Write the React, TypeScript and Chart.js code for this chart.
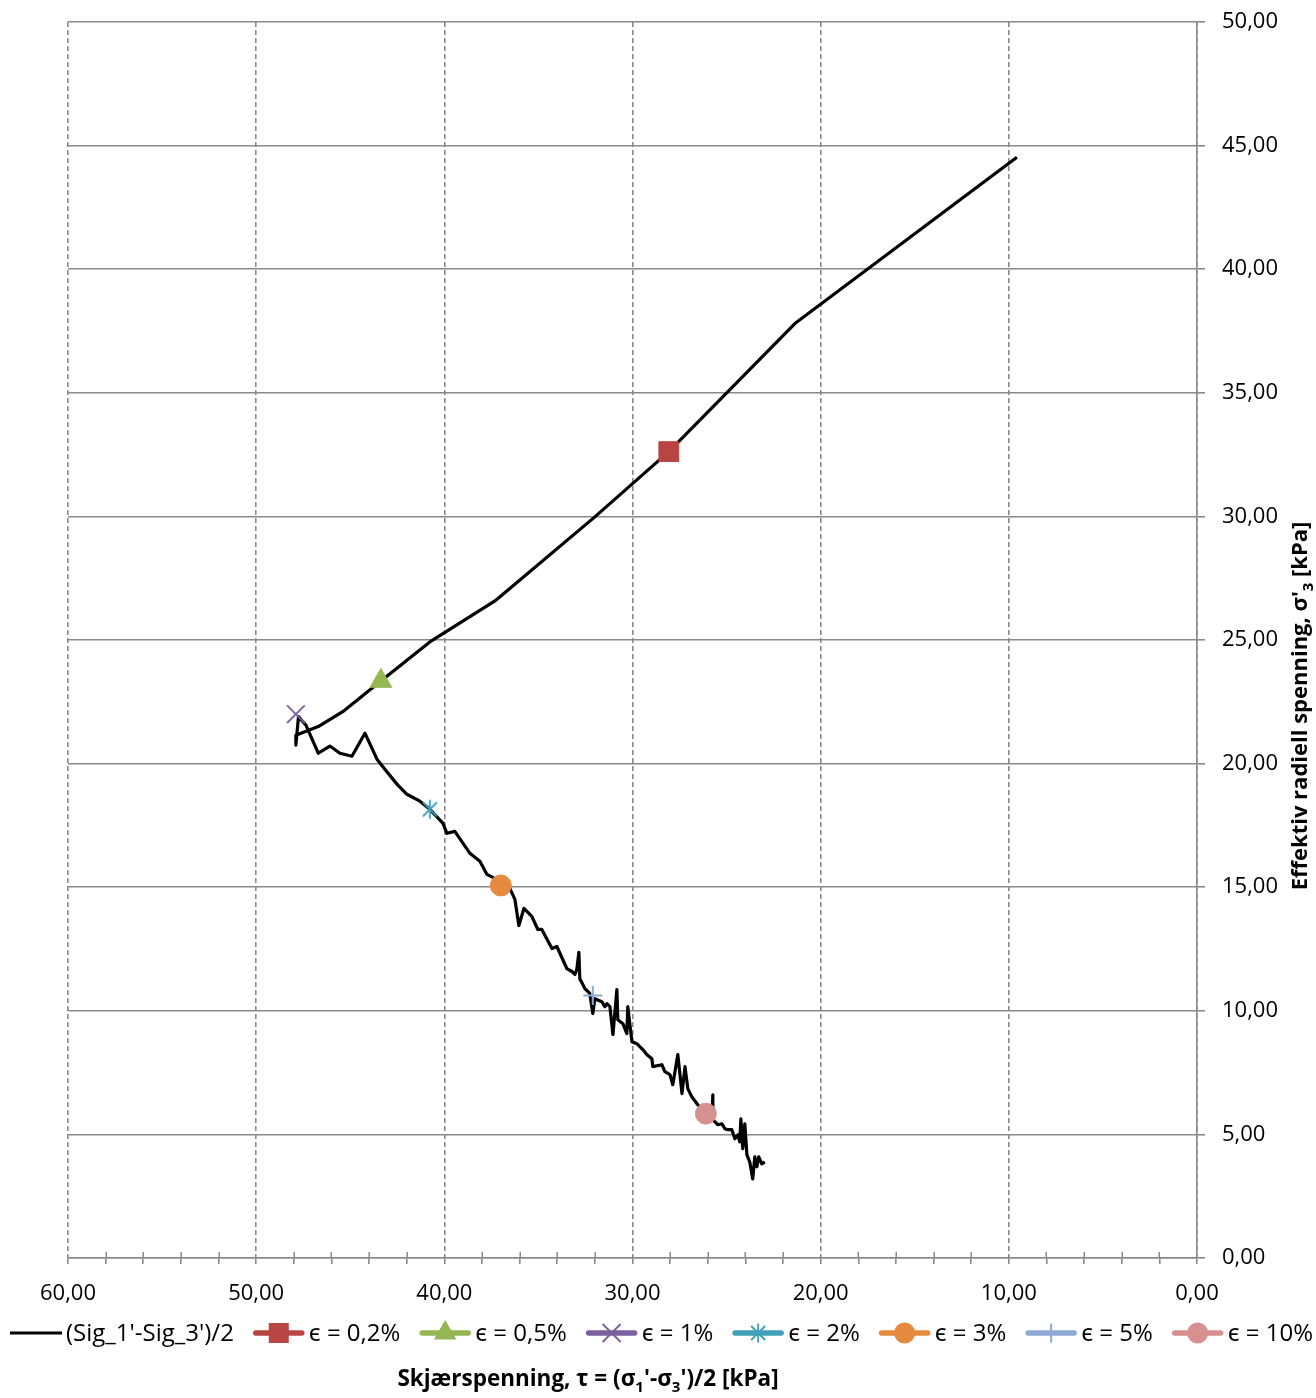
import React, { useEffect, useRef } from 'react';
import { Chart, registerables } from 'chart.js';

Chart.register(...registerables);

// ---- Data ----
const pathTau = [
  9.57, 21.37, 28.07, 32.0, 37.31, 40.77, 43.37, 45.4, 46.7, 47.89,
  47.89, 47.75, 47.35, 46.7, 46.08, 45.55, 44.91, 44.22, 43.58, 43.16,
  42.52, 41.99, 41.3, 40.77, 40.08, 39.86, 39.44, 38.64, 38.11, 37.74,
  37.42, 37.0, 36.52, 36.25, 36.04, 35.77, 35.35, 35.03, 34.82, 34.28,
  34.02, 33.49, 33.22, 33.06, 32.96, 32.85, 32.8, 32.53, 32.27, 32.11,
  32.0, 31.63, 31.47, 31.36, 31.2, 31.04, 30.83, 30.78, 30.51, 30.3,
  30.25, 30.03, 29.77, 29.45, 29.24, 28.97, 28.92, 28.44, 28.28, 28.01,
  27.86, 27.59, 27.37, 27.21, 27.06, 26.85, 26.53, 26.1, 25.78, 25.73,
  25.73, 25.46, 25.25, 25.09, 24.93, 24.72, 24.56, 24.4, 24.3, 24.24,
  24.14, 24.03, 23.92, 23.77, 23.61, 23.5, 23.39, 23.29, 23.13, 22.97,
];
const pathSigma3 = [
  44.53, 37.8, 32.62, 29.98, 26.58, 24.92, 23.34, 22.1, 21.5, 21.15,
  20.75, 21.9, 21.55, 20.42, 20.71, 20.42, 20.3, 21.23, 20.18, 19.77,
  19.17, 18.76, 18.48, 18.15, 17.59, 17.18, 17.26, 16.37, 16.05, 15.52,
  15.4, 15.07, 14.95, 14.51, 13.45, 14.14, 13.82, 13.29, 13.29, 12.52,
  12.6, 11.71, 11.59, 11.47, 11.67, 12.36, 11.3, 10.9, 10.7, 9.89,
  10.49, 10.37, 10.17, 10.29, 10.17, 9.04, 10.86, 9.64, 9.48, 9.08,
  10.17, 8.75, 8.67, 8.43, 8.23, 8.06, 7.74, 7.82, 7.54, 7.42,
  7.01, 8.23, 6.65, 7.74, 6.85, 6.52, 6.2, 5.84, 5.59, 6.6,
  5.59, 5.39, 5.43, 5.23, 5.19, 5.19, 4.82, 4.98, 4.7, 5.63,
  4.42, 5.43, 4.17, 3.89, 3.2, 4.09, 3.69, 4.09, 3.81, 3.89,
];
const pathLabel = "(Sig_1'-Sig_3')/2";

const strainLabels = ['ϵ = 0,2%', 'ϵ = 0,5%', 'ϵ = 1%', 'ϵ = 2%', 'ϵ = 3%', 'ϵ = 5%', 'ϵ = 10%'];
const strainTau = [28.07, 43.37, 47.89, 40.77, 37.0, 32.11, 26.1];
const strainSigma3 = [32.62, 23.34, 22.0, 18.15, 15.07, 10.62, 5.84];

const xTickValues = [60, 50, 40, 30, 20, 10, 0];
const yTickValues = [0, 5, 10, 15, 20, 25, 30, 35, 40, 45, 50];

// ---- Styles ----
const strainColors = ['#B84541', '#94B653', '#7C5F9E', '#3FA0B8', '#E58A3E', '#8DA9D6', '#D69090'];
const strainShapes = ['rect', 'triangle', 'crossRot', 'star6', 'circle', 'cross', 'circle'];
const FONT = "'Open Sans', 'Noto Sans', 'DejaVu Sans', sans-serif";
const GRID = '#8a8a8a';

const fmt = (v: number) => v.toFixed(2).replace('.', ',');

function makeStar(color: string): HTMLCanvasElement {
  const c = document.createElement('canvas');
  c.width = 22;
  c.height = 22;
  const g = c.getContext('2d')!;
  g.strokeStyle = color;
  g.lineWidth = 1.8;
  g.beginPath();
  g.moveTo(11 - 7, 11 - 7); g.lineTo(11 + 7, 11 + 7);
  g.moveTo(11 + 7, 11 - 7); g.lineTo(11 - 7, 11 + 7);
  g.moveTo(11, 1.5); g.lineTo(11, 20.5);
  g.stroke();
  return c;
}

function drawMarker(ctx: CanvasRenderingContext2D, shape: string, x: number, y: number, color: string) {
  ctx.save();
  ctx.fillStyle = color;
  ctx.strokeStyle = color;
  ctx.lineCap = 'butt';
  switch (shape) {
    case 'rect':
      ctx.fillRect(x - 10, y - 10, 20, 20);
      break;
    case 'triangle': {
      const r = 13;
      ctx.beginPath();
      ctx.moveTo(x, y - r);
      ctx.lineTo(x + r * 0.866, y + r * 0.5);
      ctx.lineTo(x - r * 0.866, y + r * 0.5);
      ctx.closePath();
      ctx.fill();
      break;
    }
    case 'crossRot':
      ctx.lineWidth = 1.8;
      ctx.beginPath();
      ctx.moveTo(x - 9, y - 9); ctx.lineTo(x + 9, y + 9);
      ctx.moveTo(x + 9, y - 9); ctx.lineTo(x - 9, y + 9);
      ctx.stroke();
      break;
    case 'star6':
      ctx.lineWidth = 1.8;
      ctx.beginPath();
      ctx.moveTo(x - 7, y - 7); ctx.lineTo(x + 7, y + 7);
      ctx.moveTo(x + 7, y - 7); ctx.lineTo(x - 7, y + 7);
      ctx.moveTo(x, y - 9.5); ctx.lineTo(x, y + 9.5);
      ctx.stroke();
      break;
    case 'circle':
      ctx.beginPath();
      ctx.arc(x, y, 10.5, 0, Math.PI * 2);
      ctx.fill();
      break;
    case 'cross':
      ctx.lineWidth = 2;
      ctx.beginPath();
      ctx.moveTo(x - 9.5, y); ctx.lineTo(x + 9.5, y);
      ctx.moveTo(x, y - 9.5); ctx.lineTo(x, y + 9.5);
      ctx.stroke();
      break;
  }
  ctx.restore();
}

type Seg = { t: string; sub?: boolean };

function drawRich(ctx: CanvasRenderingContext2D, segs: Seg[], cx: number, baseY: number, size: number) {
  const mainFont = `bold ${size}px ${FONT}`;
  const subFont = `bold ${Math.round(size * 0.68)}px ${FONT}`;
  let total = 0;
  const widths = segs.map((s) => {
    ctx.font = s.sub ? subFont : mainFont;
    const w = ctx.measureText(s.t).width;
    total += w;
    return w;
  });
  let x = cx - total / 2;
  ctx.textAlign = 'left';
  ctx.textBaseline = 'alphabetic';
  ctx.fillStyle = '#000';
  segs.forEach((s, i) => {
    ctx.font = s.sub ? subFont : mainFont;
    ctx.fillText(s.t, x, baseY + (s.sub ? size * 0.25 : 0));
    x += widths[i];
  });
}

const decorPlugin = {
  id: 'decor',
  afterDraw(chart: any) {
    const ctx: CanvasRenderingContext2D = chart.ctx;
    const xs = chart.scales.x;
    const axisY = xs.top;
    // minor tick upper halves (crossing the axis)
    ctx.save();
    ctx.strokeStyle = GRID;
    ctx.lineWidth = 1.5;
    ctx.beginPath();
    xs.ticks.forEach((t: any) => {
      if (Math.round(t.value) % 10 !== 0) {
        const px = Math.round(xs.getPixelForValue(t.value)) + 0.25;
        ctx.moveTo(px, axisY - 6);
        ctx.lineTo(px, axisY);
      }
    });
    ctx.stroke();
    ctx.restore();

    // legend
    ctx.save();
    const items = [{ label: pathLabel, color: '#000', shape: '' }].concat(
      strainLabels.map((l, i) => ({ label: l, color: strainColors[i], shape: strainShapes[i] }))
    );
    const LF = `24px ${FONT}`;
    ctx.font = LF;
    ctx.textBaseline = 'middle';
    ctx.textAlign = 'left';
    const sampleW = 52;
    const textGap = 4;
    const widths = items.map((it) => ctx.measureText(it.label).width);
    const used = widths.reduce((a, b) => a + b, 0) + items.length * (sampleW + textGap);
    const gap = (1313 - 10 - used) / (items.length - 1);
    let x = 10;
    const ly = 1333;
    items.forEach((it, i) => {
      ctx.strokeStyle = it.color;
      ctx.lineWidth = it.shape ? 5.5 : 2.8;
      ctx.lineCap = it.shape ? 'round' : 'butt';
      ctx.beginPath();
      ctx.moveTo(x + (it.shape ? 3 : 0), ly);
      ctx.lineTo(x + sampleW - (it.shape ? 3 : 0), ly);
      ctx.stroke();
      if (it.shape) drawMarker(ctx, it.shape, x + sampleW / 2, ly, it.color);
      ctx.fillStyle = '#000';
      ctx.font = LF;
      ctx.fillText(it.label, x + sampleW + textGap, ly + 1);
      x += sampleW + textGap + widths[i] + gap;
    });
    ctx.restore();

    // x axis title
    ctx.save();
    drawRich(
      ctx,
      [{ t: 'Skjærspenning, τ = (σ' }, { t: '1', sub: true }, { t: "'-σ" }, { t: '3', sub: true }, { t: "')/2 [kPa]" }],
      588,
      1386,
      22.5
    );
    ctx.restore();

    // y axis title (rotated)
    ctx.save();
    ctx.translate(1307, 706);
    ctx.rotate(-Math.PI / 2);
    drawRich(ctx, [{ t: "Effektiv radiell spenning, σ'" }, { t: '3', sub: true }, { t: ' [kPa]' }], 0, 0, 22);
    ctx.restore();
  },
};

export default function App() {
  const ref = useRef<HTMLCanvasElement>(null);

  useEffect(() => {
    const canvas = ref.current;
    if (!canvas) return;

    const pointStyles: any[] = strainShapes.map((s, i) => (s === 'star6' ? makeStar(strainColors[i]) : s));
    const radii = [14, 12.5, 12.5, 10, 10.5, 9.5, 10.5];
    const widths = [1, 1, 1.8, 1.8, 1, 2, 1];

    const markerSets = strainLabels.map((label, i) => ({
      label,
      data: [{ x: strainTau[i], y: strainSigma3[i] }],
      showLine: false,
      pointStyle: pointStyles[i],
      pointRadius: radii[i],
      pointHoverRadius: radii[i],
      pointBackgroundColor: strainColors[i],
      pointBorderColor: strainColors[i],
      pointBorderWidth: widths[i],
      order: 0,
    }));

    const chart = new Chart(canvas, {
      type: 'scatter',
      data: {
        datasets: [
          {
            label: pathLabel,
            data: pathTau.map((x, i) => ({ x, y: pathSigma3[i] })),
            showLine: true,
            borderColor: '#000',
            borderWidth: 3.2,
            pointRadius: 0,
            pointHoverRadius: 0,
            tension: 0,
            borderJoinStyle: 'round',
            order: 1,
          } as any,
          ...markerSets,
        ],
      },
      options: {
        animation: false,
        responsive: false,
        devicePixelRatio: 1,
        layout: { padding: { left: 68, top: 22, right: 0, bottom: 0 } },
        plugins: { legend: { display: false }, tooltip: { enabled: false } },
        scales: {
          x: {
            type: 'linear',
            reverse: true,
            min: 0,
            max: 60,
            position: 'bottom',
            ticks: {
              stepSize: 2,
              autoSkip: false,
              maxRotation: 0,
              padding: 17,
              color: '#000',
              font: { family: FONT, size: 22 },
              callback: (v: any) => (xTickValues.includes(Math.round(Number(v))) && Math.round(Number(v)) % 10 === 0 ? fmt(Number(v)) : ''),
            },
            grid: {
              color: (c: any) => (c.tick && Math.round(c.tick.value) % 10 === 0 ? GRID : 'rgba(0,0,0,0)'),
              lineWidth: 1.6,
              tickColor: GRID,
              tickLength: 6,
              tickWidth: 1.6,
            },
            border: { display: true, color: GRID, width: 1.6, dash: [5, 3] },
            afterFit: (s: any) => {
              s.height = 140;
              s.paddingLeft = 0;
              s.paddingRight = 0;
            },
          },
          y: {
            type: 'linear',
            position: 'right',
            min: 0,
            max: 50,
            ticks: {
              stepSize: 5,
              padding: 17,
              color: '#000',
              font: { family: FONT, size: 22 },
              callback: (v: any) => (yTickValues.includes(Math.round(Number(v))) ? fmt(Number(v)) : ''),
            },
            grid: { color: GRID, lineWidth: 1.6, tickColor: GRID, tickLength: 8, tickWidth: 1.6 },
            border: { display: true, color: GRID, width: 1.6 },
            afterFit: (s: any) => {
              s.width = 119;
              s.paddingTop = 0;
              s.paddingBottom = 0;
            },
          },
        },
      } as any,
      plugins: [decorPlugin],
    });

    return () => chart.destroy();
  }, []);

  return (
    <div style={{ position: 'absolute', left: 0, top: 0, width: 1316, height: 1398, background: '#fff' }}>
      <canvas ref={ref} width={1316} height={1398} style={{ display: 'block' }} />
    </div>
  );
}
